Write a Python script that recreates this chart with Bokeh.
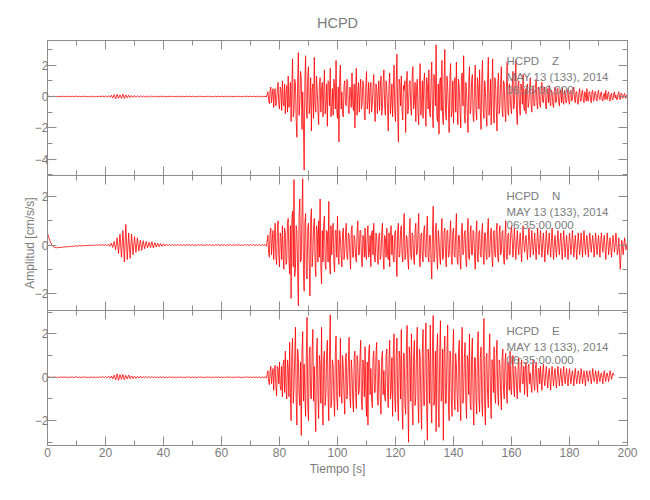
import numpy as np
from bokeh.plotting import figure
from bokeh.models import LinearAxis, SingleIntervalTicker, Range1d, Label, ColumnDataSource
from bokeh.layouts import column
from bokeh.embed import file_html
from bokeh.resources import INLINE

# ---------------- data ----------------
station = "HCPD"
components = ["Z", "N", "E"]
date_text = "MAY 13 (133), 2014"
time_text = "06:35:00.000"
x_label = "Tiempo [s]"
y_label = "Amplitud [cm/s/s]"
x_limits = (0, 200)
y_limits_z = (-5.04, 3.57)
y_limits_n = (-2.70, 2.87)
y_limits_e = (-3.14, 3.07)
pre_step = 0.5     # s between listed samples before the S/surface-wave onset
main_start = 76.0  # s, onset of the strong motion
main_step = 0.25   # s between listed samples after the onset

z_pre = [
    0.0, 0.02, -0.02, 0.01, -0.01, 0.02, -0.02, 0.01, -0.01, 0.02, -0.02, 0.01, -0.01, 0.02, -0.02, 0.01, -0.01, 0.02, -0.02, 0.01,
    0.02, -0.02, 0.01, -0.02, 0.02, -0.01, 0.02, -0.02, 0.01, -0.02, 0.02, -0.01, 0.02, -0.02, 0.01, -0.02, 0.02, -0.01, 0.03, -0.02,
    0.03, -0.04, 0.05, -0.06, 0.08, -0.1, 0.12, -0.15, 0.14, -0.12, 0.1, -0.12, 0.15, -0.13, 0.1, -0.09, 0.08, -0.07, 0.06, -0.05,
    0.06, -0.05, 0.05, -0.04, 0.04, -0.05, 0.04, -0.03, 0.03, -0.04, 0.03, -0.02, 0.03, -0.02, 0.02, -0.03, 0.02, -0.02, 0.02, -0.02,
    0.02, -0.02, 0.01, -0.02, 0.02, -0.01, 0.02, -0.02, 0.01, -0.02, 0.02, -0.01, 0.02, -0.02, 0.01, -0.02, 0.02, -0.01, 0.02, -0.02,
    0.02, -0.02, 0.01, -0.02, 0.02, -0.01, 0.02, -0.02, 0.01, -0.02, 0.02, -0.01, 0.02, -0.02, 0.01, -0.02, 0.02, -0.01, 0.02, -0.02,
    0.02, -0.02, 0.01, -0.02, 0.02, -0.01, 0.02, -0.02, 0.01, -0.02, 0.02, -0.01, 0.02, -0.02, 0.01, -0.02, 0.02, -0.01, 0.02, -0.02,
    0.02, -0.02, 0.02, -0.01, 0.02, -0.02, 0.02, -0.02, 0.02, -0.02, 0.02, -0.03,
]
z_main = [
    0.3, -0.2, -0.45, 0.35, 0.6, -0.4, 0.1, 0.5, -0.7, 0.2, 0.5, -0.6, -0.3, 0.4, 0.9, -0.5,
    -0.8, 0.6, 0.4, -0.9, 1.0, -0.3, -0.6, 0.8, -1.1, 0.2, 0.7, -1.0, 1.3, -0.7, -0.4, 0.9, -1.6, 0.5, 2.4, -1.3, -0.9, 1.1, 0.8, -1.5,
    -2.6, 0.9, 2.8, -1.2, -0.5, 1.6, 1.2, -2.1, 0.3, -1.7, -4.7, 1.0, 2.6, -0.8, -1.4, 1.3,
    1.9, -1.1, -0.6, 1.2, -2.2, 0.4, 0.8, -1.4, 2.5, -0.5, -1.0, 1.3, 0.5, -0.9, -1.8, 0.7, 1.2, -1.0, 0.4, 0.9,
    -1.3, 0.3, 1.7, -1.1, -0.5, 0.8, -1.9, 1.0, 0.9, -0.6, 1.8, -1.3, -0.7, 0.5, -1.2, 1.1, 0.6, -0.8, 2.3, -0.9,
    -1.4, 0.6, -2.9, 1.2, 2.0, -0.8, 0.3, -1.1, -1.3, 0.7, 1.0, -0.5, -0.6, 1.1, 0.8, -0.9, -1.1, 0.6, 0.4, -0.7,
    1.5, -0.4, -0.9, 0.8, -2.0, 0.5, 1.8, -1.2, 0.2, 0.9, -1.0, 0.4, 1.1, -0.8, -0.4, 1.0, 0.7, -1.2, -1.5, 0.6,
    1.6, -0.8, -0.3, 0.9, -1.1, 0.4, 0.9, -1.0, -0.5, 0.6, 1.4, -0.7, -1.6, 0.8, 0.6, -1.1, 0.2, 1.0, -0.9, 0.5,
    1.3, -1.2, -0.7, 0.9, 1.7, -0.6, -1.2, 1.0, 0.5, -0.8, -2.2, 0.7, 1.5, -1.1, -0.4, 0.8, -1.3, 0.5, 2.0, -0.9,
    -1.6, 0.9, 2.7, -1.0, -2.9, 1.1, 0.8, -0.6, 1.3, -0.9, -1.5, 0.7, 0.4, 1.0, -2.3, 0.6, 1.6, -1.1, -0.6, 0.8,
    1.0, -0.7, -1.2, 1.3, 1.9, -0.8, -0.3, 0.9, -1.6, 0.5, 1.1, -1.0, -1.8, 0.7, 2.1, -1.2, -0.5, 1.0, -1.4, 0.8,
    1.5, -0.7, -1.9, 1.2, 0.7, -0.8, 1.7, -1.0, -1.3, 0.9, 2.2, -1.1, -2.0, 1.4, 0.9, -0.6, 3.3, -1.2, -1.6, 0.8,
    -2.4, 1.0, 1.2, -0.9, 2.3, -1.4, -1.8, 0.7, 3.0, -1.0, -1.5, 1.3, 0.6, -0.8, -2.3, 1.1, 2.1, -1.3, -0.9, 1.0,
    -1.7, 0.8, 1.2, -1.0, 2.2, -0.7, -1.8, 1.1, 0.5, -0.9, -2.0, 1.3, 1.5, -0.6, 2.6, -1.2, -1.7, 0.9, 0.4, -1.0,
    -2.3, 0.8, 1.9, -1.1, -0.8, 1.0, 1.4, -1.3, -1.6, 0.7, 2.0, -0.9, -1.5, 1.2, 0.6, -0.8, 1.7, -1.0, -2.1, 1.1,
    2.3, -0.9, -1.4, 1.0, 0.5, -1.1, -1.9, 0.8, 2.5, -1.2, -0.7, 1.1, -1.8, 0.6, 2.4, -1.0, -1.7, 1.2, 0.9, -0.8,
    -2.2, 0.7, 1.5, -1.1, -0.6, 0.9, 1.9, -0.8, -1.3, 1.0, 0.8, -0.9, -1.6, 0.6, 2.2, -1.0, -1.2, 0.8, 0.4, -0.7,
    -1.1, 0.6, 1.6, -0.8, -0.5, 0.9, 2.3, -1.0, -1.8, 0.7, 1.0, -0.6, -1.2, 0.8, 0.6, -0.5, 1.4, -0.7, -0.9, 0.5,
    -1.1, 0.6, 0.8, -0.7, -0.4, 0.6, 1.2, -0.5, -1.0, 0.4, 0.7, -0.6, -0.6, 0.5, 1.1, -0.4, -0.8, 0.6, 0.5, -0.5,
    -0.7, 0.4, 0.9, -0.3, -0.4, 0.5, 0.6, -0.6, -0.8, 0.3, 0.5, -0.4, 0.7, -0.3, -0.6, 0.4, 0.3, -0.5, -0.7, 0.3,
    0.6, -0.4, -0.3, 0.5, 0.5, -0.3, -0.6, 0.2, 0.4, -0.4, 0.6, -0.3, -0.5, 0.4, 0.3, -0.4, -0.4, 0.3, 0.5, -0.3,
    -0.5, 0.3, 0.4, -0.3, -0.2, 0.4, 0.6, -0.2, -0.4, 0.3, 0.3, -0.4, -0.5, 0.2, 0.5, -0.3, -0.3, 0.3, 0.4, -0.2,
    -0.4, 0.3, 0.2, -0.3, 0.5, -0.2, -0.3, 0.3, 0.3, -0.2, -0.4, 0.3, 0.4, -0.3, -0.2, 0.3, 0.3, -0.2, -0.3, 0.2,
    0.4, -0.1, -0.2, 0.2, 0.3, -0.2, -0.3, 0.1, 0.2, -0.2, 0.4, -0.1, -0.2, 0.2, 0.3, -0.2, -0.3, 0.1, 0.2, -0.2,
    -0.2, 0.2, 0.3, -0.1, 0.1, -0.2, -0.2, 0.2, 0.3, -0.1, -0.2, 0.2, 0.2, -0.1, -0.1, 0.1, 0.2, -0.1, -0.1, 0.1,
    0.05,
]

n_pre = [
    0.48, 0.3, 0.12, 0.0, -0.07, -0.1, -0.11, -0.11, -0.1, -0.1, -0.09, -0.08, -0.08, -0.07, -0.07, -0.06, -0.06, -0.05, -0.05, -0.04,
    -0.03, -0.05, -0.02, -0.04, -0.02, -0.03, -0.01, -0.03, -0.01, -0.02, 0.0, -0.02, 0.01, -0.02, 0.01, -0.01, 0.01, -0.01, 0.02, -0.01,
    0.02, -0.03, 0.04, -0.05, 0.08, -0.1, 0.15, -0.2, 0.3, -0.35, 0.45, -0.5, 0.6, -0.7, 0.85, -0.6, 0.5, -0.55, 0.45, -0.4,
    0.35, -0.3, 0.3, -0.25, 0.2, -0.22, 0.18, -0.15, 0.15, -0.12, 0.12, -0.1, 0.14, -0.12, 0.1, -0.08, 0.08, -0.07, 0.06, -0.05,
    0.05, -0.04, 0.04, -0.03, 0.03, -0.03, 0.03, -0.02, 0.02, -0.02, 0.03, -0.02, 0.02, -0.02, 0.02, -0.02, 0.02, -0.01, 0.02, -0.02,
    0.02, -0.02, 0.01, -0.02, 0.02, -0.01, 0.02, -0.02, 0.01, -0.02, 0.02, -0.01, 0.02, -0.02, 0.01, -0.02, 0.02, -0.01, 0.02, -0.02,
    0.02, -0.02, 0.01, -0.02, 0.02, -0.01, 0.02, -0.02, 0.01, -0.02, 0.02, -0.01, 0.02, -0.02, 0.01, -0.02, 0.02, -0.01, 0.02, -0.02,
    0.02, -0.02, 0.02, -0.02, 0.02, -0.02, 0.02, -0.02, 0.02, -0.02, 0.02, -0.05,
]
n_main = [
    0.4, -0.3, -0.5, 0.5, 0.7, -0.4, 0.2, 0.6, -0.6, 0.3, 0.9, -0.5, -0.8, 0.6, 1.0, -0.4,
    -0.9, 0.5, 0.3, -0.6, 0.8, -0.4, -1.0, 0.7, 0.5, -0.8, -0.7, 0.9, 1.1, -0.6, -1.2, 0.8, -2.2, 1.0, 1.4, -0.9, 2.7, -1.3, -1.0, 0.8,
    0.6, -1.1, -2.5, 1.2, 1.9, -0.7, -0.6, 1.3, 2.74, -1.0, -1.9, 0.9, 1.3, -1.2, -1.4, 0.7,
    0.9, -0.8, -2.1, 1.0, 1.5, -0.9, -0.4, 0.7, 1.1, -0.6, -1.3, 0.8, 0.6, -0.7, 1.0, -0.5, 1.9, -0.9, -1.6, 0.6,
    -0.7, 0.9, 1.2, -0.8, -1.0, 0.6, 0.5, -0.7, 1.8, -0.6, -1.2, 0.8, -0.4, 0.5, 0.9, -0.7, -1.1, 0.6, 0.6, -0.5,
    1.2, -0.5, -0.8, 0.6, 0.3, -0.4, -0.9, 0.5, 0.7, -0.6, -0.3, 0.4, 0.9, -0.5, -0.6, 0.5, 0.4, -0.3, -1.0, 0.6,
    0.8, -0.5, -0.5, 0.4, 0.2, -0.5, -0.7, 0.5, 1.0, -0.4, -0.4, 0.6, 0.6, -0.5, -0.9, 0.4, 0.3, -0.5, 0.7, -0.4,
    -0.6, 0.4, 0.8, -0.5, -0.3, 0.4, -0.9, 0.5, 0.6, -0.4, 0.9, -0.6, -0.7, 0.5, 0.4, -0.5, -0.8, 0.4, 0.5, -0.6,
    -0.4, 0.5, 0.9, -0.5, -1.0, 0.4, 0.3, -0.5, 0.7, -0.4, -0.6, 0.5, -0.9, 0.6, 0.8, -0.4, 0.4, -0.6, -0.7, 0.5,
    0.6, -0.5, -1.3, 0.6, 0.9, -0.5, -0.4, 0.6, 0.8, -0.4, -0.7, 0.5, 1.3, -0.6, -0.5, 0.4, 0.3, -0.6, -1.0, 0.5,
    1.1, -0.4, -0.6, 0.5, 0.4, -0.5, -0.8, 0.6, 0.9, -0.4, -0.3, 0.5, 1.3, -0.6, -0.9, 0.4, 0.5, -0.5, -0.7, 0.6,
    0.8, -0.4, -0.5, 0.6, 1.2, -0.5, -0.7, 0.4, 0.4, -0.6, -1.4, 0.5, 1.6, -0.7, -0.6, 0.5, 0.9, -0.4, -1.0, 0.6,
    0.3, -0.5, -0.8, 0.4, 1.1, -0.6, -0.5, 0.5, 0.7, -0.4, -0.9, 0.6, 0.6, -0.5, -0.4, 0.4, 1.0, -0.5, -0.8, 0.5,
    0.7, -0.4, -0.5, 0.5, 1.3, -0.6, -0.8, 0.4, 0.4, -0.5, -1.0, 0.6, 0.9, -0.4, -0.3, 0.5, 0.6, -0.6, -0.9, 0.4,
    1.1, -0.5, -0.6, 0.5, 0.8, -0.4, -0.4, 0.6, 0.5, -0.5, -1.0, 0.4, 1.0, -0.6, -0.7, 0.5, 0.6, -0.4, -0.5, 0.5,
    0.9, -0.4, -0.8, 0.5, 0.5, -0.4, -0.6, 0.6, 1.1, -0.5, -0.4, 0.4, 0.7, -0.5, -0.9, 0.5, 0.6, -0.4, -0.5, 0.6,
    0.9, -0.5, -0.7, 0.4, 0.8, -0.4, -0.3, 0.5, 0.6, -0.5, -0.8, 0.4, 1.0, -0.5, -0.6, 0.4, 0.5, -0.4, -0.4, 0.5,
    0.8, 0.2, -0.5, 0.1, 0.7, 0.0, -0.6, 0.1, 0.6, 0.0, -0.4, 0.1, 0.5, -0.2, -0.7, 0.2, 0.8, 0.1, -0.3, 0.1,
    0.4, -0.1, -0.6, 0.0, 0.7, 0.2, -0.5, 0.0, 0.6, 0.1, -0.4, 0.0, 0.5, -0.1, -0.6, 0.1, 0.7, 0.1, -0.4, 0.1,
    0.6, 0.0, -0.5, 0.1, 0.5, -0.1, -0.7, 0.0, 0.6, 0.1, -0.4, 0.0, 0.5, 0.0, -0.5, 0.1, 0.7, 0.0, -0.6, 0.0,
    0.4, -0.1, -0.5, 0.1, 0.6, 0.0, -0.4, 0.1, 0.5, -0.1, -0.6, 0.0, 0.6, 0.1, -0.5, 0.0, 0.4, -0.1, -0.6, 0.0,
    0.5, 0.1, -0.4, 0.0, 0.6, 0.1, -0.5, 0.0, 0.4, -0.1, -0.6, 0.0, 0.5, 0.1, -0.4, 0.0, 0.5, 0.0, -0.5, 0.1,
    0.6, 0.0, -0.4, 0.1, 0.4, -0.1, -0.5, 0.0, 0.5, 0.1, -0.3, 0.1, 0.4, 0.0, -0.5, 0.0, 0.5, 0.1, -0.4, 0.0,
    0.4, 0.0, -0.5, 0.1, 0.5, 0.0, -0.3, 0.1, 0.4, -0.1, -0.6, 0.0, 0.5, 0.1, -0.4, 0.0, 0.3, -0.1, -0.5, 0.0,
    0.4, 0.1, -0.3, 0.0, 0.5, 0.1, -0.4, -0.2, 0.3, -0.3, -1.0, -0.4, 0.2, 0.0, -0.4, 0.0, 0.3, 0.0, -0.2, 0.0,
    0.1,
]

e_pre = [
    0.0, 0.02, -0.02, 0.01, -0.01, 0.02, -0.02, 0.01, -0.01, 0.02, -0.02, 0.01, -0.01, 0.02, -0.02, 0.01, -0.01, 0.02, -0.02, 0.01,
    0.02, -0.02, 0.01, -0.02, 0.02, -0.01, 0.02, -0.02, 0.01, -0.02, 0.02, -0.01, 0.02, -0.02, 0.01, -0.02, 0.02, -0.01, 0.03, -0.02,
    0.03, -0.03, 0.04, -0.05, 0.06, -0.08, 0.1, -0.12, 0.15, -0.14, 0.12, -0.1, 0.13, -0.11, 0.09, -0.08, 0.1, -0.07, 0.06, -0.06,
    0.05, -0.05, 0.04, -0.04, 0.05, -0.04, 0.03, -0.03, 0.04, -0.03, 0.03, -0.02, 0.03, -0.02, 0.02, -0.02, 0.02, -0.02, 0.02, -0.02,
    0.02, -0.02, 0.01, -0.02, 0.02, -0.01, 0.02, -0.02, 0.01, -0.02, 0.02, -0.01, 0.02, -0.02, 0.01, -0.02, 0.02, -0.01, 0.02, -0.02,
    0.02, -0.02, 0.01, -0.02, 0.02, -0.01, 0.02, -0.02, 0.01, -0.02, 0.02, -0.01, 0.02, -0.02, 0.01, -0.02, 0.02, -0.01, 0.02, -0.02,
    0.02, -0.02, 0.01, -0.02, 0.02, -0.01, 0.02, -0.02, 0.01, -0.02, 0.02, -0.01, 0.02, -0.02, 0.01, -0.02, 0.02, -0.01, 0.02, -0.02,
    0.02, -0.02, 0.02, -0.02, 0.02, -0.02, 0.02, -0.02, 0.02, -0.02, 0.02, -0.04,
]
e_main = [
    0.3, -0.2, -0.35, 0.3, 0.5, -0.3, 0.1, 0.4, -0.6, 0.3, 0.55, -0.4, -0.85, 0.5, 0.4, -0.3,
    0.7, -0.4, -0.6, 0.5, -0.9, 0.6, 0.8, -0.7, 1.2, -0.5, -1.0, 0.8, 0.4, -0.9, 1.6, -0.7, -2.0, 1.1, 1.8, -1.2, -0.5, 0.9, 2.3, -1.0,
    -2.2, 1.3, 0.9, -0.8, -1.3, 0.7, -2.68, 1.2, 2.1, -1.1, 0.6, -0.9, -1.8, 1.0, 2.76, -1.3,
    -2.0, 1.0, 1.4, -0.9, -1.0, 1.2, 2.2, -1.1, 0.5, -1.3, -2.5, 1.1, 1.8, -0.8, -1.9, 1.0, 0.6, -1.2, 2.3, -1.0,
    -2.2, 0.9, 1.2, -1.3, -0.8, 1.1, 1.7, -0.9, -2.0, 1.2, 2.87, -1.4, -1.1, 0.8, 0.5, -1.0, -1.8, 1.1, 1.9, -0.9,
    -1.5, 0.8, 0.6, -0.9, 1.8, -0.7, -1.2, 1.0, 0.4, -0.8, -1.7, 0.9, 1.1, -1.0, -0.5, 0.7, 1.84, -0.9, -1.4, 0.8,
    0.3, -1.0, -1.6, 0.9, 1.2, -0.7, -1.44, 1.0, 0.7, -0.8, -0.6, 0.9, 1.7, -1.1, -1.5, 0.8, 0.5, -0.9, 1.4, -0.7,
    -1.8, 0.7, -2.2, 1.1, 1.5, -0.8, 0.4, -1.0, -1.4, 0.9, 1.2, -0.7, -0.7, 1.0, 1.6, -0.9, -1.3, 0.8, 0.5, -1.0,
    -1.7, 0.9, 1.2, -0.8, 0.3, -0.9, -1.1, 1.0, 1.3, -0.7, -1.4, 0.8, 1.7, -1.0, -0.6, 0.9, -1.8, 1.1, 2.0, -0.9,
    -1.6, 1.0, 1.8, -1.1, -2.0, 1.2, 0.9, -1.0, 2.2, -1.3, -2.4, 1.1, 1.1, -1.2, -1.7, 1.3, 2.38, -1.0, -2.99, 1.4,
    0.8, -1.1, 2.0, -1.2, -2.2, 1.0, 1.7, -1.3, -0.9, 1.2, 2.3, -1.1, -2.1, 1.3, 1.0, -1.2, -2.4, 1.1, 2.2, -1.3,
    -1.3, 1.2, 2.5, -1.4, -2.9, 1.3, 0.7, -1.2, 2.4, -1.1, -2.1, 1.4, 2.84, -1.3, -1.0, 1.2, -2.5, 1.1, 2.0, -1.4,
    -2.3, 1.2, 2.6, -1.1, -0.9, 1.3, -2.9, 1.0, 1.9, -1.2, -1.2, 1.1, 2.4, -1.3, -2.0, 1.2, 1.1, -1.0, -1.8, 1.1,
    2.2, -1.0, -1.5, 1.1, 0.6, -0.9, -1.6, 1.2, 1.7, -1.0, -2.0, 1.1, 2.3, -1.2, -0.8, 0.9, 1.6, -1.1, -1.9, 1.0,
    0.7, -0.8, 2.0, -1.2, -1.5, 1.0, 1.8, -1.1, -2.2, 0.9, 0.9, -1.0, -1.7, 1.2, 2.1, -1.0, -1.6, 0.9, 1.4, -1.1,
    -1.8, 1.0, 2.7, -1.2, -2.2, 0.9, 1.1, -0.8, -1.4, 1.0, 2.0, -0.9, -1.9, 0.8, 0.8, -0.7, 1.4, -0.8, -1.2, 0.9,
    1.7, -0.7, -1.3, 0.8, 0.6, -0.7, -1.5, 0.8, 1.3, -0.6, -1.0, 0.7, 1.1, -0.6, -1.2, 0.7, 0.5, -0.6, 1.2, -0.5,
    -0.8, 0.5, 1.0, -0.4, -0.9, 0.5, 0.4, -0.5, -1.0, 0.4, 0.9, -0.5, -0.7, 0.4, 0.8, -0.3, -0.3, 0.5, -0.8, 0.3,
    0.7, -0.4, -0.9, 0.5, 0.6, -0.3, 0.2, -0.4, -0.7, 0.4, 0.8, -0.3, -0.6, 0.4, 0.7, -0.3, -0.7, 0.4, 0.4, -0.3,
    0.5, -0.1, -0.6, 0.2, 0.6, -0.1, -0.4, 0.1, 0.5, 0.0, -0.5, 0.1, 0.4, -0.1, -0.6, 0.1, 0.5, 0.0, -0.4, 0.1,
    0.4, -0.1, -0.5, 0.0, 0.5, 0.1, -0.4, 0.0, 0.4, -0.1, -0.4, 0.1, 0.5, 0.0, -0.3, 0.1, 0.4, -0.1, -0.4, 0.1,
    0.4, 0.0, -0.3, 0.1, 0.3, 0.0, -0.4, 0.1, 0.4, 0.0, -0.3, 0.0, 0.3, 0.1, -0.3, 0.0, 0.4, 0.1, -0.3, 0.0,
    0.3, 0.0, -0.4, 0.1, 0.3, 0.0, -0.2, 0.1, 0.3, 0.0, -0.3, 0.0, 0.4, 0.1, -0.2, 0.0, 0.3, 0.1, -0.3, 0.0,
    0.3, 0.0, -0.2, 0.1, 0.2, 0.0, -0.3, 0.1, 0.3, 0.0, -0.2, 0.1, 0.2, 0.0, -0.2, 0.1, 0.3, 0.1, -0.1, 0.1,
    0.2, 0.1, 0.1,
]

# ---------------- styling ----------------
FONT = "Liberation Sans"
TXT = "#7c7c7c"
AXC = "#8c8c8c"
FW, FH = 580, 135
LEFT, RIGHT = 47, 15


def style_axis(ax, show_labels, standoff=2):
    ax.axis_line_color = AXC
    ax.major_tick_line_color = AXC
    ax.minor_tick_line_color = AXC
    ax.major_tick_in = 9
    ax.major_tick_out = 0
    ax.minor_tick_in = 5
    ax.minor_tick_out = 0
    if show_labels:
        ax.major_label_text_font = FONT
        ax.major_label_text_font_size = "12px"
        ax.major_label_text_color = TXT
        ax.major_label_standoff = standoff
    else:
        ax.major_label_text_color = None
        ax.major_label_standoff = 0


def make_panel(comp, pre, main, ylim, first, last):
    p = figure(frame_width=FW, frame_height=FH,
               x_range=Range1d(*x_limits), y_range=Range1d(*ylim),
               output_backend="svg", toolbar_location=None,
               min_border_left=LEFT, min_border_right=RIGHT,
               min_border_top=40 if first else 0,
               min_border_bottom=40 if last else 0)
    p.outline_line_color = None
    p.grid.grid_line_color = None
    p.background_fill_color = "white"

    bottom_ax = p.below[0]
    left_ax = p.left[0]
    bottom_ax.ticker = SingleIntervalTicker(interval=20, num_minor_ticks=2)
    left_ax.ticker = SingleIntervalTicker(interval=2, num_minor_ticks=2)
    style_axis(bottom_ax, last, 2)
    style_axis(left_ax, True, -1)

    top_ax = LinearAxis(ticker=SingleIntervalTicker(interval=20, num_minor_ticks=2))
    right_ax = LinearAxis(ticker=SingleIntervalTicker(interval=2, num_minor_ticks=2))
    style_axis(top_ax, False)
    style_axis(right_ax, False)
    p.add_layout(top_ax, "above")
    p.add_layout(right_ax, "right")

    t = np.concatenate([np.arange(len(pre)) * pre_step,
                        main_start + np.arange(len(main)) * main_step])
    v = np.array(list(pre) + list(main))
    src = ColumnDataSource(data=dict(t=t, v=v))
    p.line("t", "v", source=src, line_color="red", line_width=0.8)

    ytop, ybot = ylim[1], ylim[0]
    ppu = FH / (ytop - ybot)
    lines = [station + "\u00a0\u00a0\u00a0\u00a0" + comp, date_text, time_text]
    offsets = [20.5, 36, 49]
    for txt, off in zip(lines, offsets):
        p.add_layout(Label(x=158.3, y=ytop - off / ppu, text=txt,
                           text_font=FONT, text_font_size="11.5px",
                           text_color=TXT, text_align="left",
                           text_baseline="middle"))
    return p, bottom_ax, left_ax


p1, b1, l1 = make_panel(components[0], z_pre, z_main, y_limits_z, True, False)
p2, b2, l2 = make_panel(components[1], n_pre, n_main, y_limits_n, False, False)
p3, b3, l3 = make_panel(components[2], e_pre, e_main, y_limits_e, False, True)

p1.title.text = station
p1.title.align = "center"
p1.title.text_font = FONT
p1.title.text_font_size = "14.5px"
p1.title.text_font_style = "normal"
p1.title.text_color = TXT
p1.title.standoff = 19

l2.axis_label = y_label
l2.axis_label_text_font = FONT
l2.axis_label_text_font_size = "12px"
l2.axis_label_text_font_style = "normal"
l2.axis_label_text_color = TXT
l2.axis_label_standoff = -5

b3.axis_label = x_label
b3.axis_label_text_font = FONT
b3.axis_label_text_font_size = "12px"
b3.axis_label_text_font_style = "normal"
b3.axis_label_text_color = TXT
b3.axis_label_standoff = 2

layout = column(p1, p2, p3, spacing=0)
open("out.html", "w").write(file_html(layout, INLINE))
